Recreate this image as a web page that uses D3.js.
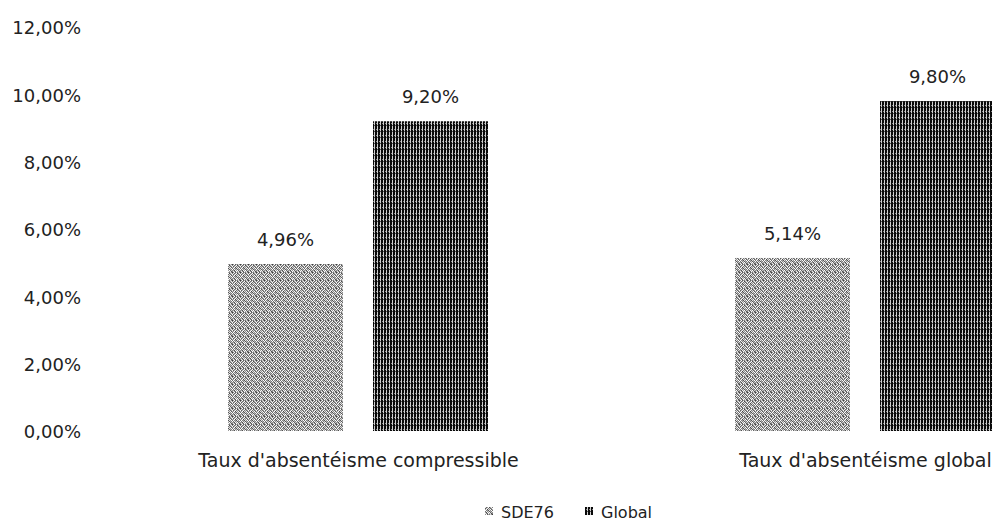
<!DOCTYPE html>
<html>
<head>
<meta charset="utf-8">
<script src="https://cdn.jsdelivr.net/npm/d3@7"></script>
<style>
  html, body { margin: 0; padding: 0; background: #fff; overflow: hidden; }
  svg { display: block; }
  text { font-family: "DejaVu Sans", "Open Sans", sans-serif; fill: #222; }
</style>
</head>
<body>
<svg id="chart" width="992" height="524"></svg>
<script>
// Absenteeism rates: SDE76 vs. global reference
const categories = ["Taux d'absentéisme compressible", "Taux d'absentéisme global"];
const seriesNames = ["SDE76", "Global"];
const sde76Values = [4.96, 5.14];
const globalValues = [9.20, 9.80];
const yTicks = [0, 2, 4, 6, 8, 10, 12];

const series = [sde76Values, globalValues];
const rows = categories.map((c, i) => ({
  category: c,
  values: seriesNames.map((s, k) => ({ series: s, value: series[k][i] }))
}));

const FONT = "\"DejaVu Sans\", \"Open Sans\", sans-serif";
const svg = d3.select("#chart");
const defs = svg.append("defs");

// Grey dithered texture for SDE76
const dither = [
  "#8c8c8c","#ffffff","#5a5a5a","#a8a8a8","#7a7a7a","#d8d8d8","#8a8a8a","#3c3c3c",
  "#e8e8e8","#6e6e6e","#9c9c9c","#ffffff","#4a4a4a","#a0a0a0","#f0f0f0","#808080",
  "#5c5c5c","#b0b0b0","#f4f4f4","#787878","#cfcfcf","#6a6a6a","#989898","#ffffff",
  "#a0a0a0","#ffffff","#464646","#dcdcdc","#909090","#f8f8f8","#5e5e5e","#aaaaaa",
  "#ffffff","#808080","#a4a4a4","#545454","#e4e4e4","#8c8c8c","#ffffff","#6c6c6c",
  "#707070","#eeeeee","#888888","#d0d0d0","#5a5a5a","#acacac","#7c7c7c","#ffffff",
  "#a4a4a4","#4e4e4e","#f2f2f2","#9c9c9c","#ffffff","#666666","#c8c8c8","#949494",
  "#ececec","#909090","#626262","#ffffff","#a2a2a2","#e0e0e0","#505050","#848484"
];
const pGrey = defs.append("pattern")
  .attr("id", "pat-sde76").attr("patternUnits", "userSpaceOnUse")
  .attr("width", 8).attr("height", 8);
dither.forEach((c, i) => {
  pGrey.append("rect").attr("x", i % 8).attr("y", Math.floor(i / 8))
    .attr("width", 1).attr("height", 1).attr("fill", c);
});

// Dark striped texture for Global
const pDark = defs.append("pattern")
  .attr("id", "pat-global").attr("patternUnits", "userSpaceOnUse")
  .attr("width", 3).attr("height", 6);
pDark.append("rect").attr("width", 3).attr("height", 6).attr("fill", "#0a0a0a");
pDark.append("rect").attr("x", 2).attr("y", 0).attr("width", 1).attr("height", 6).attr("fill", "#d0d0d0");
pDark.append("rect").attr("x", 1).attr("y", 3).attr("width", 1).attr("height", 1).attr("fill", "#8a8a8a");
pDark.append("rect").attr("x", 2).attr("y", 5).attr("width", 1).attr("height", 1).attr("fill", "#555");

const fills = { "SDE76": "url(#pat-sde76)", "Global": "url(#pat-global)" };

// Plot area: the category band extends past the right edge of the view
const y = d3.scaleLinear().domain([0, 12]).range([431, 27]);
const x0 = d3.scaleBand().domain(categories).range([105, 1119]).paddingInner(0).paddingOuter(0);
const x1 = d3.scaleBand().domain(seriesNames).range([123, 383]).paddingInner(0.207).paddingOuter(0);

const fmt = v => v.toFixed(2).replace(".", ",") + "%";

// Y axis labels (no axis line, no gridlines)
const yAxis = d3.axisLeft(y).tickValues(yTicks).tickSize(0).tickPadding(0).tickFormat(fmt);
const gy = svg.append("g").attr("transform", "translate(81,0)").call(yAxis);
gy.select(".domain").remove();
gy.selectAll("text").style("font-size", "18px").style("fill", "#222")
  .style("font-family", FONT).attr("dy", "0.38em");

// Bars
const groups = svg.append("g").selectAll("g").data(rows).join("g")
  .attr("transform", d => `translate(${x0(d.category)},0)`);

groups.selectAll("rect").data(d => d.values).join("rect")
  .attr("x", d => x1(d.series))
  .attr("y", d => y(d.value))
  .attr("width", x1.bandwidth())
  .attr("height", d => y(0) - y(d.value))
  .attr("fill", d => fills[d.series]);

// Value labels
groups.selectAll("text.val").data(d => d.values).join("text")
  .attr("class", "val")
  .attr("x", d => x1(d.series) + x1.bandwidth() / 2)
  .attr("y", d => y(d.value) - 18)
  .attr("text-anchor", "middle")
  .style("font-size", "18px")
  .text(d => fmt(d.value));

// Category labels
const xAxis = d3.axisBottom(x0).tickSize(0).tickPadding(0);
const gx = svg.append("g").attr("transform", "translate(0,467)").call(xAxis);
gx.select(".domain").remove();
gx.selectAll("text").style("font-size", "19px").style("fill", "#222")
  .style("font-family", FONT).attr("dy", "0");

// Legend
const legend = svg.append("g").attr("transform", "translate(485,506)");
const legendX = [0, 100];
seriesNames.forEach((s, i) => {
  const g = legend.append("g").attr("transform", `translate(${legendX[i]},0)`);
  g.append("rect").attr("x", 0).attr("y", 1).attr("width", 8).attr("height", 8)
    .attr("fill", fills[s]);
  g.append("text").attr("x", 16).attr("y", 12)
    .style("font-size", "16px").text(s);
});
</script>
</body>
</html>
